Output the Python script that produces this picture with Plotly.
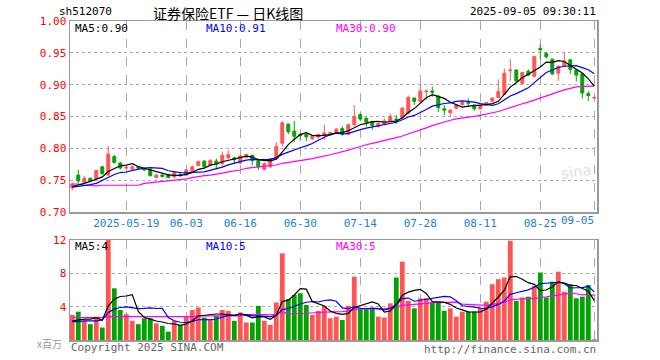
import plotly.graph_objects as go
import pandas as pd

# ---------------- data ----------------
dates = [
    "2025-05-06", "2025-05-07", "2025-05-08", "2025-05-09", "2025-05-12", "2025-05-13", "2025-05-14",
    "2025-05-15", "2025-05-16", "2025-05-19", "2025-05-20", "2025-05-21", "2025-05-22", "2025-05-23",
    "2025-05-26", "2025-05-27", "2025-05-28", "2025-05-29", "2025-05-30", "2025-06-03", "2025-06-04",
    "2025-06-05", "2025-06-06", "2025-06-09", "2025-06-10", "2025-06-11", "2025-06-12", "2025-06-13",
    "2025-06-16", "2025-06-17", "2025-06-18", "2025-06-19", "2025-06-20", "2025-06-23", "2025-06-24",
    "2025-06-25", "2025-06-26", "2025-06-27", "2025-06-30", "2025-07-01", "2025-07-02", "2025-07-03",
    "2025-07-04", "2025-07-07", "2025-07-08", "2025-07-09", "2025-07-10", "2025-07-11", "2025-07-14",
    "2025-07-15", "2025-07-16", "2025-07-17", "2025-07-18", "2025-07-21", "2025-07-22", "2025-07-23",
    "2025-07-24", "2025-07-25", "2025-07-28", "2025-07-29", "2025-07-30", "2025-07-31", "2025-08-01",
    "2025-08-04", "2025-08-05", "2025-08-06", "2025-08-07", "2025-08-08", "2025-08-11", "2025-08-12",
    "2025-08-13", "2025-08-14", "2025-08-15", "2025-08-18", "2025-08-19", "2025-08-20", "2025-08-21",
    "2025-08-22", "2025-08-25", "2025-08-26", "2025-08-27", "2025-08-28", "2025-08-29", "2025-09-01",
    "2025-09-02", "2025-09-03", "2025-09-04", "2025-09-05",
]

open_ = [
    0.738, 0.758, 0.747, 0.753, 0.752, 0.771, 0.758, 0.787, 0.777, 0.769,
    0.768, 0.771, 0.768, 0.767, 0.754, 0.758, 0.759, 0.755, 0.759, 0.758,
    0.763, 0.773, 0.780, 0.774, 0.780, 0.776, 0.785, 0.785, 0.777, 0.786,
    0.789, 0.780, 0.767, 0.771, 0.784, 0.808, 0.838, 0.827, 0.822, 0.822,
    0.815, 0.818, 0.820, 0.821, 0.825, 0.831, 0.822, 0.837, 0.853, 0.847,
    0.842, 0.834, 0.838, 0.843, 0.846, 0.848, 0.855, 0.879, 0.874, 0.889,
    0.890, 0.882, 0.862, 0.856, 0.863, 0.869, 0.872, 0.868, 0.862, 0.868,
    0.874, 0.880, 0.885, 0.922, 0.923, 0.902, 0.921, 0.913, 0.957, 0.949,
    0.940, 0.918, 0.929, 0.939, 0.923, 0.917, 0.886, 0.879,
]
high = [
    0.746, 0.766, 0.757, 0.754, 0.766, 0.772, 0.804, 0.790, 0.778, 0.772,
    0.773, 0.772, 0.769, 0.769, 0.759, 0.760, 0.760, 0.764, 0.761, 0.767,
    0.773, 0.781, 0.781, 0.783, 0.784, 0.795, 0.797, 0.787, 0.790, 0.792,
    0.790, 0.781, 0.778, 0.784, 0.810, 0.843, 0.839, 0.843, 0.824, 0.824,
    0.821, 0.823, 0.837, 0.826, 0.832, 0.835, 0.839, 0.868, 0.855, 0.849,
    0.843, 0.840, 0.847, 0.855, 0.852, 0.865, 0.883, 0.880, 0.901, 0.891,
    0.897, 0.884, 0.868, 0.861, 0.870, 0.874, 0.878, 0.869, 0.868, 0.873,
    0.880, 0.908, 0.925, 0.940, 0.924, 0.920, 0.924, 0.945, 0.964, 0.951,
    0.941, 0.930, 0.951, 0.940, 0.924, 0.918, 0.890, 0.881,
]
low = [
    0.734, 0.745, 0.744, 0.747, 0.751, 0.759, 0.757, 0.776, 0.767, 0.767,
    0.766, 0.767, 0.765, 0.756, 0.753, 0.754, 0.753, 0.754, 0.755, 0.756,
    0.762, 0.772, 0.770, 0.773, 0.767, 0.772, 0.783, 0.776, 0.775, 0.784,
    0.773, 0.766, 0.765, 0.769, 0.783, 0.802, 0.822, 0.810, 0.812, 0.811,
    0.813, 0.815, 0.813, 0.819, 0.823, 0.820, 0.821, 0.835, 0.843, 0.834,
    0.829, 0.833, 0.836, 0.842, 0.838, 0.847, 0.853, 0.868, 0.872, 0.876,
    0.881, 0.857, 0.852, 0.850, 0.861, 0.867, 0.865, 0.859, 0.861, 0.867,
    0.873, 0.879, 0.884, 0.906, 0.903, 0.901, 0.914, 0.912, 0.940, 0.941,
    0.915, 0.906, 0.928, 0.917, 0.905, 0.878, 0.874, 0.878,
]
close = [
    0.744, 0.749, 0.753, 0.749, 0.765, 0.760, 0.791, 0.778, 0.769, 0.770,
    0.771, 0.769, 0.766, 0.757, 0.758, 0.756, 0.754, 0.762, 0.757, 0.766,
    0.771, 0.779, 0.771, 0.781, 0.775, 0.789, 0.790, 0.782, 0.788, 0.790,
    0.781, 0.771, 0.776, 0.784, 0.803, 0.840, 0.826, 0.819, 0.820, 0.818,
    0.819, 0.822, 0.824, 0.825, 0.830, 0.822, 0.837, 0.850, 0.846, 0.841,
    0.836, 0.839, 0.843, 0.850, 0.845, 0.863, 0.880, 0.874, 0.890, 0.890,
    0.888, 0.864, 0.860, 0.860, 0.868, 0.872, 0.871, 0.862, 0.867, 0.872,
    0.879, 0.889, 0.918, 0.923, 0.906, 0.919, 0.915, 0.944, 0.955, 0.944,
    0.917, 0.929, 0.937, 0.924, 0.915, 0.887, 0.883, 0.880,
]
volume = [
    3.0, 3.4, 2.3, 1.9, 2.8, 1.5, 12.0, 6.2, 3.6, 3.1,
    2.3, 1.9, 2.6, 2.6, 2.0, 1.7, 1.0, 2.3, 1.8, 2.8,
    3.6, 3.9, 2.7, 2.5, 2.9, 3.6, 3.5, 2.3, 3.3, 2.1,
    2.1, 4.1, 2.3, 1.8, 4.5, 10.4, 4.9, 5.4, 5.6, 4.2,
    3.0, 3.5, 4.1, 2.6, 2.8, 2.4, 4.1, 7.6, 3.7, 3.7,
    3.8, 2.8, 2.7, 4.4, 7.5, 9.4, 4.7, 3.8, 5.0, 5.0,
    4.5, 4.6, 3.5, 3.8, 2.8, 3.4, 3.4, 3.4, 3.8, 4.6,
    6.7, 7.3, 7.5, 11.9, 4.7, 5.1, 5.2, 6.5, 8.1, 5.1,
    7.0, 8.2, 5.8, 6.7, 5.0, 5.2, 6.6, 0.1,
]

# moving-average values at the left edge (history before the window)
ma5_head = [0.740, 0.742, 0.745, 0.748]
ma10_head = [0.739, 0.740, 0.742, 0.743, 0.745, 0.750, 0.755, 0.759, 0.762]
ma30_head = [0.744, 0.744, 0.742, 0.741, 0.741, 0.742, 0.742, 0.742, 0.742, 0.742,
             0.742, 0.742, 0.745, 0.746, 0.747, 0.747, 0.748, 0.749, 0.750, 0.752,
             0.754, 0.756, 0.757, 0.758, 0.759, 0.761, 0.763, 0.764, 0.766]
vma5_head = [2.3, 2.4, 2.5, 2.5]
vma10_head = [2.2, 2.2, 2.3, 2.3, 2.3, 2.4, 3.3, 3.7, 3.9]
vma30_head = [2.7, 2.7, 2.7, 2.7, 2.7, 2.7, 2.8, 2.8, 2.8, 2.8,
              2.8, 2.8, 2.8, 2.8, 2.8, 2.8, 2.8, 2.8, 2.8, 2.8,
              2.8, 2.9, 2.9, 2.9, 2.9, 2.9, 2.9, 2.9, 2.9]

tick_dates = ["2025-05-19", "2025-06-03", "2025-06-16", "2025-06-30", "2025-07-14",
              "2025-07-28", "2025-08-11", "2025-08-25", "2025-09-05"]
tick_text = ["2025-05-19", "06-03", "06-16", "06-30", "07-14", "07-28", "08-11", "08-25", ""]
last_tick_text = "09-05"
price_ticks = [0.70, 0.75, 0.80, 0.85, 0.90, 0.95, 1.00]
vol_ticks = [4, 8, 12]

title_code = "sh512070"
title_main = "证券保险ETF — 日K线图"
timestamp = "2025-09-05 09:30:11"
price_ma_labels = ["MA5:0.90", "MA10:0.91", "MA30:0.90"]
vol_ma_labels = ["MA5:4", "MA10:5", "MA30:5"]
unit_label = "x百万"
copyright_text = "Copyright 2025 SINA.COM"
url_text = "http://finance.sina.com.cn"
watermark = "sina"


def moving_avg(values, n, head):
    s = pd.Series(values).rolling(n).mean().tolist()
    return list(head) + s[len(head):]


ma5 = moving_avg(close, 5, ma5_head)
ma10 = moving_avg(close, 10, ma10_head)
ma30 = moving_avg(close, 30, ma30_head)
vma5 = moving_avg(volume, 5, vma5_head)
vma10 = moving_avg(volume, 10, vma10_head)
vma30 = moving_avg(volume, 30, vma30_head)

# ---------------- styling ----------------
RED = "#ff5555"
GREEN = "#00a400"
BLACK = "#000000"
BLUE = "#0000ff"
MAGENTA = "#ff00ff"
GRID = "#aaaaaa"
BORDER = "#999999"
TICKBLUE = "#1a7fd4"
MONO = "DejaVu Sans Mono"

W, H = 660, 360
L, R, T, B = 70, 597, 21, 340


def px(x):
    return (x - L) / (R - L)


def py(y):
    return (B - y) / (B - T)


vol_colors = [RED if c >= o else GREEN for o, c in zip(open_, close)]

fig = go.Figure()
fig.add_trace(go.Candlestick(
    x=dates, open=open_, high=high, low=low, close=close,
    increasing=dict(line=dict(color=RED, width=1), fillcolor=RED),
    decreasing=dict(line=dict(color=GREEN, width=1), fillcolor=GREEN),
    whiskerwidth=0, xaxis="x", yaxis="y", showlegend=False, hoverinfo="skip",
))
for vals, col in ((ma30, MAGENTA), (ma10, BLUE), (ma5, BLACK)):
    fig.add_trace(go.Scatter(x=dates, y=vals, mode="lines", line=dict(color=col, width=1.2),
                             xaxis="x", yaxis="y", showlegend=False, hoverinfo="skip"))

fig.add_trace(go.Bar(x=dates, y=volume, marker=dict(color=vol_colors, line=dict(width=0)),
                     xaxis="x2", yaxis="y2", showlegend=False, hoverinfo="skip"))
for vals, col in ((vma30, MAGENTA), (vma10, BLUE), (vma5, BLACK)):
    fig.add_trace(go.Scatter(x=dates, y=vals, mode="lines", line=dict(color=col, width=1.2),
                             xaxis="x2", yaxis="y2", showlegend=False, hoverinfo="skip"))

xcommon = dict(
    type="category", categoryorder="array", categoryarray=dates,
    range=[-0.38, len(dates) - 0.55],
    tickmode="array", tickvals=tick_dates,
    showgrid=True, gridcolor=GRID, griddash="dash", gridwidth=1,
    showline=True, mirror=True, linecolor=BORDER, linewidth=1.5,
    ticks="", zeroline=False, fixedrange=True,
)
ycommon = dict(
    showgrid=True, gridcolor=GRID, griddash="dot", gridwidth=1,
    showline=True, mirror=True, linecolor=BORDER, linewidth=1.5,
    ticks="", zeroline=False, fixedrange=True,
    tickfont=dict(family=MONO, size=11, color="#ff0000"),
)

fig.update_layout(
    width=W, height=H,
    margin=dict(l=L, r=W - R, t=T, b=H - B, pad=0),
    paper_bgcolor="white", plot_bgcolor="white",
    bargap=0.2,
    xaxis=dict(xcommon, anchor="y", ticktext=tick_text, rangeslider=dict(visible=False),
               tickfont=dict(family=MONO, size=11, color=TICKBLUE)),
    xaxis2=dict(xcommon, anchor="y2", matches="x", showticklabels=False),
    yaxis=dict(ycommon, domain=[py(212), 1], range=[0.70, 1.00], tickvals=price_ticks,
               ticktext=[f"{v:.2f}" for v in price_ticks]),
    yaxis2=dict(ycommon, domain=[0, py(240)], range=[0, 12], tickvals=vol_ticks,
                ticktext=[str(v) for v in vol_ticks]),
)

ann = []


def text(x, y, s, color="#000000", size=11, family=MONO, xanchor="left", yanchor="middle", **kw):
    ann.append(dict(x=px(x), y=py(y), xref="paper", yref="paper", text=s, showarrow=False,
                    font=dict(family=family, size=size, color=color),
                    xanchor=xanchor, yanchor=yanchor, **kw))


text(57, 12, title_code)
text(228, 13, title_main, size=14, family="Noto Sans CJK SC", xanchor="center")
text(598, 12, timestamp, xanchor="right")
text(73, 28, price_ma_labels[0], color=BLACK)
text(204, 28, price_ma_labels[1], color=BLUE)
text(334, 28, price_ma_labels[2], color=MAGENTA)
text(73, 247, vol_ma_labels[0], color=BLACK)
text(204, 247, vol_ma_labels[1], color=BLUE)
text(334, 247, vol_ma_labels[2], color=MAGENTA)
text(64, 343, unit_label, color="#999999", size=10, family="Noto Sans CJK SC", xanchor="right")
text(69, 348, copyright_text, color="#666666")
text(598, 349, url_text, color="#666666", xanchor="right")
text(576, 172, watermark, color="#e2e2e2", size=15, family="DejaVu Sans",
     xanchor="center", textangle=-8)
text(596, 221, last_tick_text, color=TICKBLUE, xanchor="right")
fig.update_layout(annotations=ann)

fig.write_html("out.html", config={"displayModeBar": False, "staticPlot": True},
               post_script="document.body.style.margin='0';")
